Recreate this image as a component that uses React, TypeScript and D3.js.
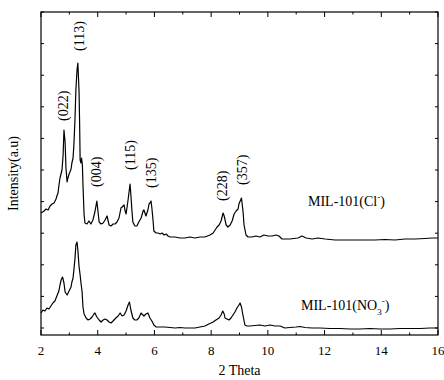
import React from "react";
import * as d3 from "d3";

// 2θ positions (degrees)
const clTheta = [2.00,2.11,2.18,2.25,2.32,2.39,2.46,2.53,2.56,2.60,2.63,2.67,2.74,2.78,2.81,2.85,2.88,2.92,2.95,2.99,3.02,3.06,3.09,3.13,3.16,3.20,3.23,3.27,3.30,3.34,3.36,3.38,3.41,3.43,3.46,3.48,3.52,3.55,3.62,3.69,3.76,3.83,3.90,3.97,4.05,4.12,4.19,4.26,4.33,4.40,4.47,4.54,4.61,4.68,4.75,4.82,4.86,4.93,4.96,5.00,5.07,5.14,5.17,5.21,5.24,5.31,5.38,5.45,5.53,5.60,5.63,5.70,5.77,5.81,5.84,5.88,5.91,5.95,5.98,6.06,6.13,6.20,6.27,6.34,6.41,6.48,6.55,6.73,6.90,7.08,7.25,7.43,7.61,7.78,7.96,8.07,8.14,8.21,8.28,8.35,8.42,8.46,8.53,8.59,8.67,8.74,8.81,8.88,8.95,8.98,9.07,9.13,9.16,9.23,9.30,9.44,9.58,9.72,9.86,10.01,10.15,10.29,10.39,10.50,10.78,11.06,11.20,11.35,11.56,11.77,12.02,12.37,12.72,13.07,13.43,13.78,14.13,14.48,14.84,15.19,15.54,15.79,16.00];
// Intensity (a.u.) of MIL-101(Cl-), stacked
const clIntensity = [115,117,119,118,122,124,125,129,132,135,142,150,158,173,198,186,160,146,150,154,156,159,165,170,183,210,238,258,265,238,208,168,165,170,163,143,113,105,104,107,104,108,116,127,106,104,105,108,112,103,102,104,104,106,110,120,121,123,118,114,128,144,133,116,106,102,102,106,110,117,118,112,118,124,125,127,120,108,97,95,95,94,95,93,94,92,91,91,90,90,91,90,91,91,93,95,98,101,103,107,115,112,103,101,103,107,114,117,119,124,130,115,103,93,91,91,92,91,93,92,92,93,92,89,89,90,92,90,89,90,89,88,88,88,88,88,88.5,88,89,89,89.5,90,90];

const no3Theta = [2.00,2.07,2.14,2.21,2.28,2.35,2.42,2.49,2.56,2.63,2.67,2.71,2.76,2.81,2.85,2.92,2.99,3.06,3.09,3.13,3.16,3.20,3.23,3.27,3.30,3.34,3.38,3.41,3.45,3.48,3.52,3.59,3.66,3.73,3.80,3.87,3.90,3.97,4.05,4.12,4.19,4.26,4.33,4.40,4.47,4.54,4.64,4.72,4.79,4.86,4.93,5.00,5.07,5.12,5.17,5.24,5.31,5.38,5.45,5.53,5.56,5.63,5.70,5.77,5.84,5.91,5.98,6.06,6.20,6.37,6.55,6.73,6.90,7.08,7.25,7.43,7.61,7.78,7.92,8.07,8.17,8.28,8.35,8.41,8.46,8.49,8.56,8.63,8.70,8.77,8.84,8.91,8.98,9.02,9.07,9.12,9.19,9.26,9.37,9.55,9.72,9.90,10.08,10.25,10.43,10.60,10.78,10.99,11.13,11.31,11.56,11.84,12.19,12.54,12.90,13.25,13.60,13.95,14.31,14.66,15.01,15.37,15.72,16.00];
// Intensity (a.u.) of MIL-101(NO3-)
const no3Intensity = [15,18,17,20,19,22,25,27,32,37,43,48,51,45,36,33,37,41,46,50,58,70,83,86,78,62,53,45,36,21,14,10,8,9,11,14,15,11,8,6,8,9,8,6,5,7,10,12,15,12,13,17,23,26,18,10,8,8,10,15,14,12,14,15,10,7,3,1,1,1,0.5,0,0.5,0,0,0,1,2,4,6,8,10,13,17,14,10,9,8,10,13,16,20,23,25,21,13,3,2,2,2.5,3,2,3,2,2,0,0.5,1,1.5,0.5,0,0,-0.5,-0.5,-1,-1,-0.5,-1,-1,-0.5,-0.5,-0.5,0,0];

const peakLabels = ["(022)","(113)","(004)","(115)","(135)","(228)","(357)"];
const peakTheta = [2.81,3.35,3.95,5.14,5.89,8.41,9.12];
const peakLabelBase = [207,277,141,158,140,127,143];

const xTicks = [2,4,6,8,10,12,14,16];
const xMinor = [3,5,7,9,11,13,15];

const W = 444, H = 380;
const M = { left: 41, right: 6, top: 12, bottom: 45 };

export default function App() {
  const x = d3.scaleLinear().domain([2, 16]).range([M.left, W - M.right]);
  const y = d3.scaleLinear().domain([-7, 316]).range([H - M.bottom, M.top]);
  const yTicks = d3.range(0, 317, 31.6);
  const mk = (xs: number[], ys: number[]) =>
    d3.line<[number, number]>().x(d => x(d[0])).y(d => y(d[1]))(xs.map((v, i) => [v, ys[i]]))!;
  const x0 = x(2), x1 = x(16), y0 = y(-7), y1 = y(316);
  const font = "Liberation Serif, Times New Roman, serif";
  return (
    <svg width={W} height={H} style={{ position: "absolute", left: 0, top: 0, background: "#fff" }} fontFamily={font}>
      <rect x={0} y={0} width={W} height={H} fill="#fff" />
      <path d={mk(clTheta, clIntensity)} fill="none" stroke="#000" strokeWidth={1.2} strokeLinejoin="round" />
      <path d={mk(no3Theta, no3Intensity)} fill="none" stroke="#000" strokeWidth={1.2} strokeLinejoin="round" />
      <rect x={x0} y={y1} width={x1 - x0} height={y0 - y1} fill="none" stroke="#000" strokeWidth={1.2} />
      {xTicks.map(t => (
        <g key={"xt" + t}>
          <line x1={x(t)} x2={x(t)} y1={y0} y2={y0 - 5} stroke="#000" />
          <line x1={x(t)} x2={x(t)} y1={y1} y2={y1 + 5} stroke="#000" />
          <text x={x(t)} y={y0 + 20} textAnchor="middle" fontSize={13}>{t}</text>
        </g>
      ))}
      {xMinor.map(t => (
        <g key={"xm" + t}>
          <line x1={x(t)} x2={x(t)} y1={y0} y2={y0 - 2.5} stroke="#000" />
          <line x1={x(t)} x2={x(t)} y1={y1} y2={y1 + 2.5} stroke="#000" />
        </g>
      ))}
      {yTicks.map((t, i) => (
        <g key={"yt" + i}>
          <line x1={x0} x2={x0 + 3} y1={y(t)} y2={y(t)} stroke="#000" />
          <line x1={x1} x2={x1 - 3} y1={y(t)} y2={y(t)} stroke="#000" />
        </g>
      ))}
      {peakLabels.map((p, i) => (
        <text key={p} transform={`translate(${x(peakTheta[i])},${y(peakLabelBase[i])}) rotate(-90)`}
          fontSize={14} dominantBaseline="central" textAnchor="start">{p}</text>
      ))}
      <text x={308} y={206} fontSize={14}>MIL-101(Cl<tspan dy={-6} fontSize={9}>-</tspan><tspan dy={6}>)</tspan></text>
      <text x={301} y={310} fontSize={14}>MIL-101(NO<tspan dy={5} fontSize={9}>3</tspan><tspan dy={-11} fontSize={9}>-</tspan><tspan dy={6}>)</tspan></text>
      <text x={(x0 + x1) / 2} y={375} textAnchor="middle" fontSize={14}>2 Theta</text>
      <text transform={`translate(18,${(y0 + y1) / 2}) rotate(-90)`} textAnchor="middle" fontSize={14}>Intensity(a.u)</text>
    </svg>
  );
}
